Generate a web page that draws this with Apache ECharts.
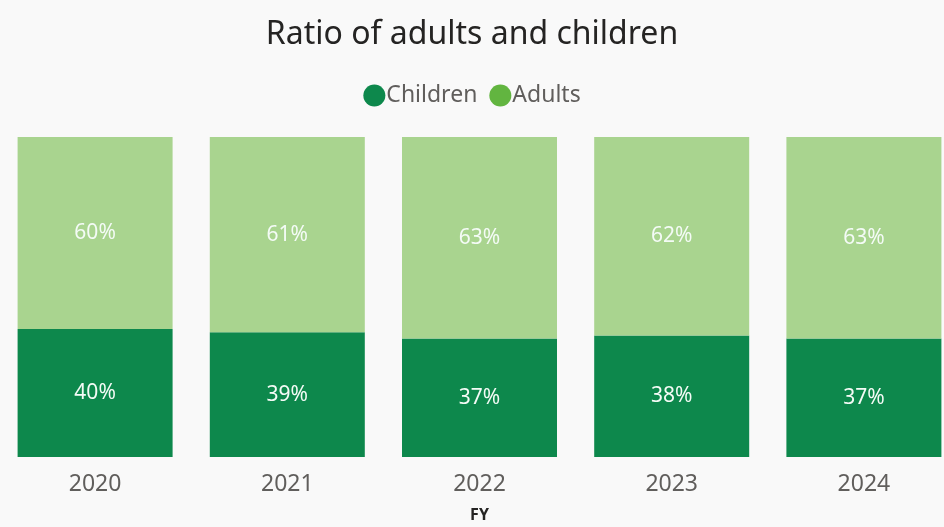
<!DOCTYPE html>
<html>
<head>
<meta charset="utf-8">
<script src="https://cdn.jsdelivr.net/npm/echarts@6/dist/echarts.min.js"></script>
<style>
  html, body { margin: 0; padding: 0; background: #f9f9f9; }
  #chart { width: 944px; height: 527px; }
</style>
</head>
<body>
<div id="chart"></div>
<script>
// Fiscal years and share of people (%) in each group
const years = ['2020', '2021', '2022', '2023', '2024'];
const childrenPct = [40, 39, 37, 38, 37];
const adultsPct = [60, 61, 63, 62, 63];

const FONT = '"Noto Sans", "Open Sans", sans-serif';
const DARK = '#0d884c';
const LIGHT = '#a9d48f';
const LIGHT_LEGEND = '#62b540';

const chart = echarts.init(document.getElementById('chart'), null, { renderer: 'canvas' });

const labelStyle = {
  show: true,
  position: 'inside',
  color: '#f4fbf6',
  fontFamily: FONT,
  fontSize: 21,
  formatter: p => p.value + '%'
};

chart.setOption({
  backgroundColor: '#f9f9f9',
  animation: false,
  title: {
    text: 'Ratio of adults and children',
    left: 'center',
    top: 14,
    textStyle: { fontFamily: FONT, fontSize: 32, fontWeight: 'normal', color: '#252423' }
  },
  legend: {
    top: 79,
    left: 'center',
    icon: 'circle',
    itemWidth: 22,
    itemHeight: 22,
    itemGap: 12,
    textStyle: { fontFamily: FONT, fontSize: 23, color: '#605e5c', padding: [0, 0, 0, -4] },
    data: [
      { name: 'Children', itemStyle: { color: DARK } },
      { name: 'Adults', itemStyle: { color: LIGHT_LEGEND } }
    ]
  },
  grid: { left: -1, width: 961, top: 137, bottom: 70, outerBoundsMode: 'none', containLabel: false },
  xAxis: {
    type: 'category',
    data: years,
    name: 'FY',
    nameLocation: 'middle',
    nameGap: 50,
    nameTextStyle: { fontFamily: FONT, fontSize: 16, fontWeight: 'bold', color: '#252423' },
    axisLine: { show: false },
    axisTick: { show: false },
    axisLabel: { fontFamily: FONT, fontSize: 23, color: '#605e5c', margin: 16 }
  },
  yAxis: {
    type: 'value',
    min: 0,
    max: 100,
    show: false
  },
  series: [
    {
      name: 'Children',
      type: 'bar',
      stack: 'total',
      barWidth: 155,
      data: childrenPct,
      itemStyle: { color: DARK },
      label: labelStyle
    },
    {
      name: 'Adults',
      type: 'bar',
      stack: 'total',
      barWidth: 155,
      data: adultsPct,
      itemStyle: { color: LIGHT },
      label: labelStyle
    }
  ]
});
</script>
</body>
</html>
